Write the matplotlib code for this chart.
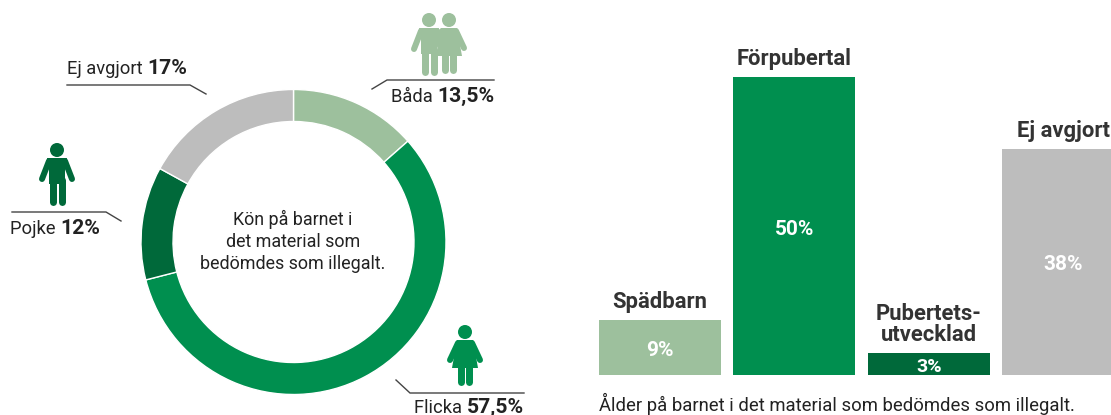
import matplotlib
matplotlib.use("Agg")
import matplotlib.pyplot as plt
from matplotlib.patches import Circle, Polygon

plt.rcParams["font.family"] = ["Roboto", "DejaVu Sans"]

W, H = 1111, 415

# donut
gender_labels = ["Båda", "Flicka", "Pojke", "Ej avgjort"]
gender_values = [13.5, 57.5, 12, 17]
gender_text = ["13,5%", "57,5%", "12%", "17%"]
gender_colors = ["#9DC09D", "#008F4F", "#00693A", "#BDBDBD"]

# bars; heights, the small bar is drawn taller than its label
age_labels = ["Spädbarn", "Förpubertal", "Pubertets-\nutvecklad", "Ej avgjort"]
age_heights = [9.2, 50, 3.7, 38]
age_text = ["9%", "50%", "3%", "38%"]
age_colors = ["#9DC09D", "#008F4F", "#00693A", "#BDBDBD"]

C_TEXT = "#222222"
C_LINE = "#444444"
BODY = 13.2


def px_axes(fig, left, top, right, bottom):
    return fig.add_axes([left / W, 1 - bottom / H, (right - left) / W, (bottom - top) / H])


fig = plt.figure(figsize=(W / 100, H / 100), dpi=100)

# donut
cx, cy, r = 293.5, 242, 152.5
ax_pie = px_axes(fig, cx - r, cy - r, cx + r, cy + r)
ax_pie.pie(gender_values, colors=gender_colors, startangle=90, counterclock=False, radius=1,
           wedgeprops=dict(width=32 / r, edgecolor="white", linewidth=1))
ax_pie.set_xlim(-1, 1)
ax_pie.set_ylim(-1, 1)

# bars
bar_cx, bar_step = 660, 134.4
ax_bar = px_axes(fig, 590, 0, W, 375)
ax_bar.bar(range(4), age_heights, width=122 / bar_step, color=age_colors)
ax_bar.set_xlim((590 - bar_cx) / bar_step, (W - bar_cx) / bar_step)
ax_bar.set_ylim(0, 375 / 5.96)
ax_bar.axis("off")
for i, (lab, val, txt) in enumerate(zip(age_labels, age_heights, age_text)):
    ax_bar.annotate(txt, (i, val / 2), xytext=(0, -2.2), textcoords="offset points",
                    ha="center", va="center", color="white",
                    fontsize=15 if i != 2 else 14, fontweight="bold", clip_on=False)
    ax_bar.annotate(lab, (i, val), xytext=(0, 5), textcoords="offset points", ha="center",
                    va="bottom", color="#333333", fontsize=15.8, fontweight="bold",
                    linespacing=0.95)

# overlay in pixel coordinates: text, leader lines, icons
ov = fig.add_axes([0, 0, 1, 1])
ov.set_xlim(0, W)
ov.set_ylim(H, 0)
ov.axis("off")
ov.patch.set_alpha(0)


def label(x, y, reg, bold):
    t = ov.text(x, y, reg + " ", fontsize=BODY, color=C_TEXT, va="baseline")
    ext = t.get_window_extent(fig.canvas.get_renderer())
    ov.text(ext.x1, y, bold, fontsize=15.2, color=C_TEXT, va="baseline", fontweight="bold")


def leader(xs, ys):
    ov.plot(xs, ys, color=C_LINE, lw=1, solid_joinstyle="miter")


def limb(xs, ys, color, w):
    ov.plot(xs, ys, color=color, lw=w * 0.72, solid_capstyle="round")


def boy(x, y, color):
    ov.add_patch(Circle((x, y), 7, color=color, lw=0))
    ov.add_patch(Polygon([(x - 10, y + 8), (x + 10, y + 8), (x + 8, y + 20), (x + 8, y + 34),
                          (x - 8, y + 34), (x - 8, y + 20)], color=color, lw=0))
    limb([x - 8, x - 15], [y + 11, y + 29], color, 6)
    limb([x + 8, x + 15], [y + 11, y + 29], color, 6)
    limb([x - 4.5, x - 4.5], [y + 30, y + 52], color, 7)
    limb([x + 4.5, x + 4.5], [y + 30, y + 52], color, 7)


def girl(x, y, color):
    ov.add_patch(Circle((x, y), 7, color=color, lw=0))
    ov.add_patch(Polygon([(x - 8, y + 8), (x + 8, y + 8), (x + 13, y + 36), (x - 13, y + 36)],
                         color=color, lw=0))
    limb([x - 7, x - 15], [y + 11, y + 28], color, 6)
    limb([x + 7, x + 15], [y + 11, y + 28], color, 6)
    limb([x - 4, x - 4], [y + 34, y + 50], color, 7)
    limb([x + 4, x + 4], [y + 34, y + 50], color, 7)


boy(429, 20, gender_colors[0])
girl(449, 20, gender_colors[0])
girl(465, 332, gender_colors[1])
boy(57, 150, gender_colors[2])

leader([372, 387, 494], [89, 80, 80])
leader([12, 106, 121], [212, 212, 221])
leader([396, 410, 524], [380, 393, 393])
leader([67, 190, 206], [85, 85, 94])

label(67, 74, gender_labels[3], gender_text[3])
label(391, 102, gender_labels[0], gender_text[0])
label(10, 234, gender_labels[2], gender_text[2])
label(414, 413, gender_labels[1], gender_text[1])

for yy, s in zip([219, 242, 264], ["Kön på barnet i", "det material som", "bedömdes som illegalt."]):
    ov.text(293, yy, s, ha="center", va="center", fontsize=12.9, color=C_TEXT)

ov.text(599, 411, "Ålder på barnet i det material som bedömdes som illegalt.",
        fontsize=13.35, color=C_TEXT, va="baseline")

fig.savefig("out.png", dpi=100)
